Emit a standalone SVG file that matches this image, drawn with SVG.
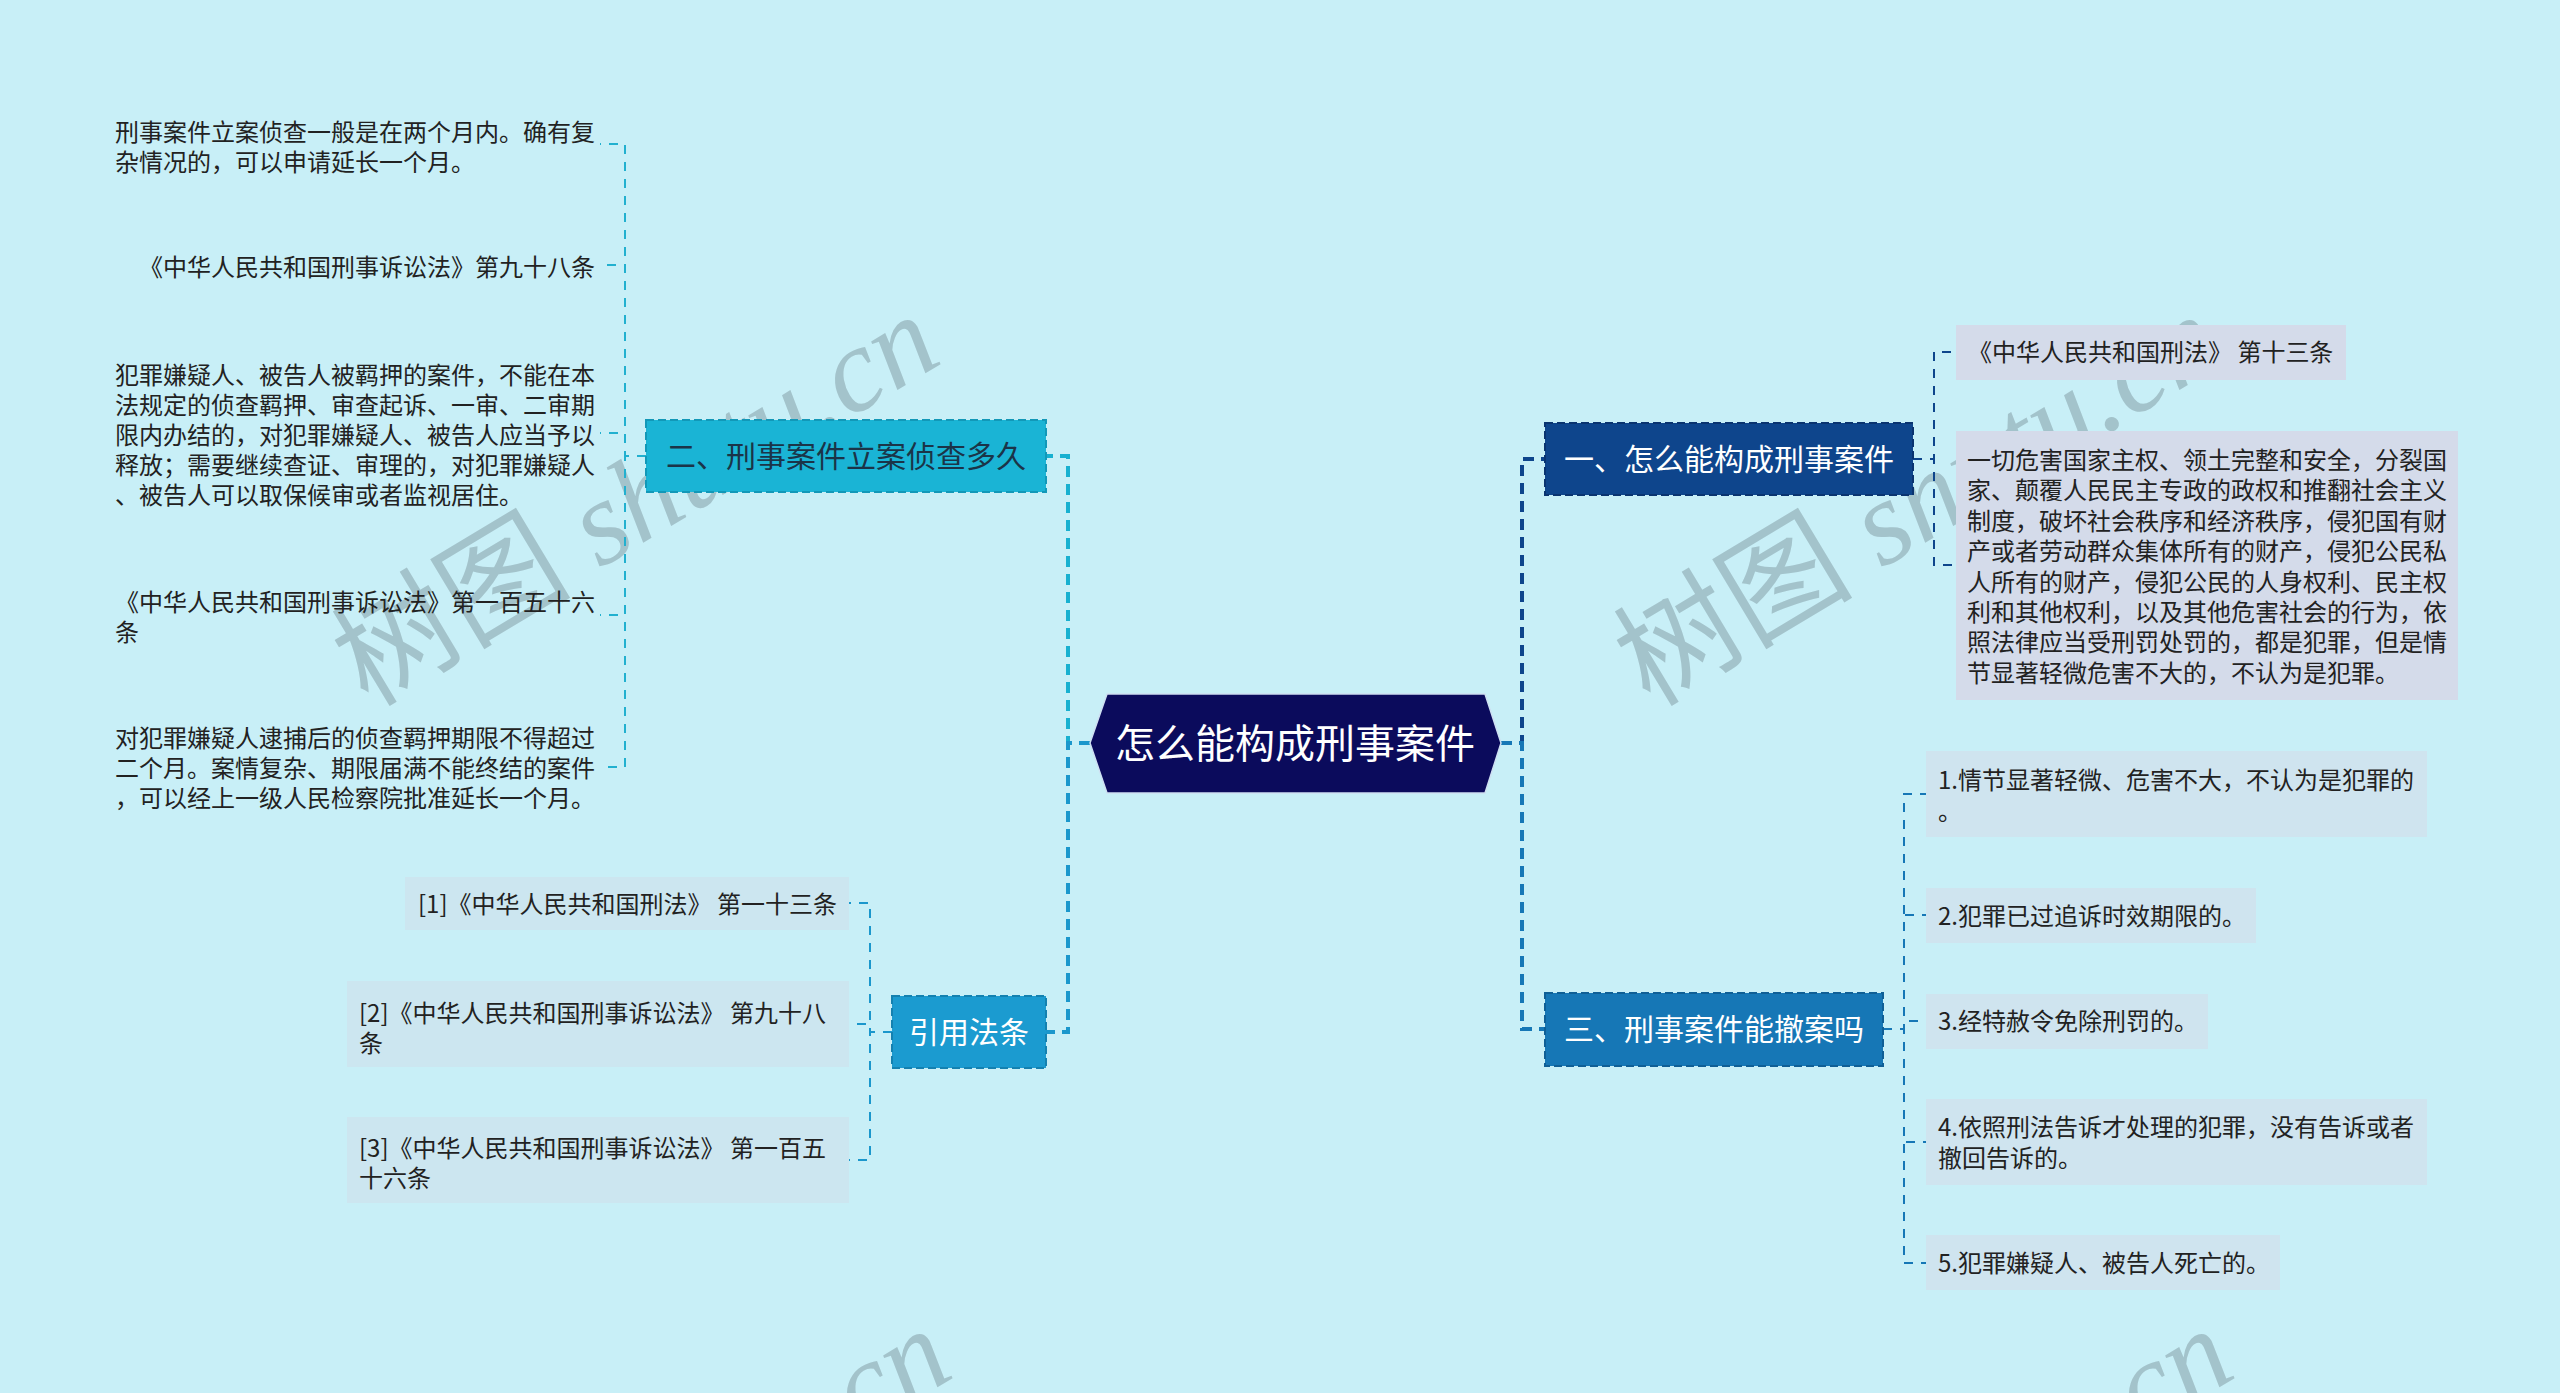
<svg xmlns="http://www.w3.org/2000/svg" width="2560" height="1393" viewBox="0 0 2560 1393">
<style>
.t{font-family:"Noto Sans CJK SC","Noto Sans",sans-serif;}
.leaf{font-size:24px;fill:#222;}
.l1{font-size:30px;text-anchor:middle;}
.wm{font-family:"Liberation Serif","Noto Sans CJK SC",serif;font-size:120px;fill:#a3c3cb;}
.edge{fill:none;stroke-dasharray:10 7;}
.thick{stroke-width:4;stroke-dasharray:11 7;}
.thin{stroke-width:2;stroke-dasharray:9 8;}
</style>
<rect width="2560" height="1393" fill="#c8eff7"/>
<g id="watermarks">
<g transform="translate(368,708) rotate(-31)"><text class="wm" x="0" y="0">树图 <tspan font-style="italic">shutu.cn</tspan></text></g>
<g transform="translate(1650,708) rotate(-31)"><text class="wm" x="0" y="0">树图 <tspan font-style="italic">shutu.cn</tspan></text></g>
<g transform="translate(380,1722) rotate(-31)"><text class="wm" x="0" y="0">树图 <tspan font-style="italic">shutu.cn</tspan></text></g>
<g transform="translate(1662,1722) rotate(-31)"><text class="wm" x="0" y="0">树图 <tspan font-style="italic">shutu.cn</tspan></text></g>
</g>
<g id="connectors">
<path class="edge thick" stroke="#18b0d0" d="M1090 743H1068V456H1046"/>
<path class="edge thick" stroke="#1b97cc" d="M1090 743H1068V1032H1046"/>
<path class="edge thick" stroke="#0e458c" d="M1501 743H1522V459H1545"/>
<path class="edge thick" stroke="#1677b6" d="M1501 743H1522V1029H1545"/>
<path class="edge thin" stroke="#22b0cf" d="M646 456H625V144H600"/>
<path class="edge thin" stroke="#22b0cf" d="M646 456H625V265H600"/>
<path class="edge thin" stroke="#22b0cf" d="M646 456H625V433H600"/>
<path class="edge thin" stroke="#22b0cf" d="M646 456H625V615H600"/>
<path class="edge thin" stroke="#22b0cf" d="M646 456H625V767H600"/>
<path class="edge thin" stroke="#1b97cc" d="M892 1032H870V903H849"/>
<path class="edge thin" stroke="#1b97cc" d="M892 1032H870V1024H849"/>
<path class="edge thin" stroke="#1b97cc" d="M892 1032H870V1160H849"/>
<path class="edge thin" stroke="#0e458c" d="M1913 459H1934V352H1956"/>
<path class="edge thin" stroke="#0e458c" d="M1913 459H1934V565H1956"/>
<path class="edge thin" stroke="#1677b6" d="M1883 1029H1904V794H1926"/>
<path class="edge thin" stroke="#1677b6" d="M1883 1029H1904V915H1926"/>
<path class="edge thin" stroke="#1677b6" d="M1883 1029H1904V1021H1926"/>
<path class="edge thin" stroke="#1677b6" d="M1883 1029H1904V1142H1926"/>
<path class="edge thin" stroke="#1677b6" d="M1883 1029H1904V1263H1926"/>
</g>
<g id="root">
<polygon points="1090,743 1107,694 1485,694 1501,743 1485,793 1107,793" fill="#0b0b5c" stroke="#cfe0f2" stroke-width="1.5"/>
<text class="t" x="1295" y="758" font-size="40" fill="#fff" text-anchor="middle">怎么能构成刑事案件</text>
</g>
<g id="n1">
<rect x="1545" y="423" width="368" height="72" fill="#0e458c" stroke="#0a3470" stroke-width="2" stroke-dasharray="8 4"/>
<text class="t l1" x="1729" y="470" fill="#fff">一、怎么能构成刑事案件</text>
</g>
<g id="n3">
<rect x="1545" y="993" width="338" height="73" fill="#1677b6" stroke="#0f5f96" stroke-width="2" stroke-dasharray="8 4"/>
<text class="t l1" x="1714" y="1040" fill="#fff">三、刑事案件能撤案吗</text>
</g>
<g id="n2">
<rect x="646" y="420" width="400" height="72" fill="#1ab4d5" stroke="#1298b8" stroke-width="2" stroke-dasharray="8 4"/>
<text class="t l1" x="846" y="467" fill="#1b3448">二、刑事案件立案侦查多久</text>
</g>
<g id="n4">
<rect x="892" y="996" width="154" height="72" fill="#1b9bd0" stroke="#1481b0" stroke-width="2" stroke-dasharray="8 4"/>
<text class="t l1" x="969" y="1043" fill="#fff">引用法条</text>
</g>
<g id="n2a"><text class="t leaf" x="115"><tspan x="115" y="141">刑事案件立案侦查一般是在两个月内。确有复</tspan><tspan x="115" y="171">杂情况的，可以申请延长一个月。</tspan></text></g>
<g id="n2b"><text class="t leaf" x="595" y="276" text-anchor="end">《中华人民共和国刑事诉讼法》第九十八条</text></g>
<g id="n2c"><text class="t leaf"><tspan x="115" y="384">犯罪嫌疑人、被告人被羁押的案件，不能在本</tspan><tspan x="115" y="414">法规定的侦查羁押、审查起诉、一审、二审期</tspan><tspan x="115" y="444">限内办结的，对犯罪嫌疑人、被告人应当予以</tspan><tspan x="115" y="474">释放；需要继续查证、审理的，对犯罪嫌疑人</tspan><tspan x="115" y="504">、被告人可以取保候审或者监视居住。</tspan></text></g>
<g id="n2d"><text class="t leaf"><tspan x="115" y="611">《中华人民共和国刑事诉讼法》第一百五十六</tspan><tspan x="115" y="641">条</tspan></text></g>
<g id="n2e"><text class="t leaf"><tspan x="115" y="747">对犯罪嫌疑人逮捕后的侦查羁押期限不得超过</tspan><tspan x="115" y="777">二个月。案情复杂、期限届满不能终结的案件</tspan><tspan x="115" y="807">，可以经上一级人民检察院批准延长一个月。</tspan></text></g>
<g id="n4a">
<rect x="405" y="877" width="444" height="53" fill="#cce6f0"/>
<text class="t leaf" x="418" y="913">[1]《中华人民共和国刑法》 第一十三条</text>
</g>
<g id="n4b">
<rect x="347" y="981" width="502" height="86" fill="#cce6f0"/>
<text class="t leaf"><tspan x="359" y="1022">[2]《中华人民共和国刑事诉讼法》 第九十八</tspan><tspan x="359" y="1052">条</tspan></text>
</g>
<g id="n4c">
<rect x="347" y="1117" width="502" height="86" fill="#cce6f0"/>
<text class="t leaf"><tspan x="359" y="1157">[3]《中华人民共和国刑事诉讼法》 第一百五</tspan><tspan x="359" y="1187">十六条</tspan></text>
</g>
<g id="n1a">
<rect x="1956" y="325" width="390" height="55" fill="#d4dbea"/>
<text class="t leaf" x="1968" y="361">《中华人民共和国刑法》 第十三条</text>
</g>
<g id="n1b">
<rect x="1956" y="431" width="502" height="269" fill="#d4dbea"/>
<text class="t leaf"><tspan x="1967" y="469">一切危害国家主权、领土完整和安全，分裂国</tspan><tspan x="1967" y="499.4">家、颠覆人民民主专政的政权和推翻社会主义</tspan><tspan x="1967" y="529.8">制度，破坏社会秩序和经济秩序，侵犯国有财</tspan><tspan x="1967" y="560.2">产或者劳动群众集体所有的财产，侵犯公民私</tspan><tspan x="1967" y="590.6">人所有的财产，侵犯公民的人身权利、民主权</tspan><tspan x="1967" y="621">利和其他权利，以及其他危害社会的行为，依</tspan><tspan x="1967" y="651.4">照法律应当受刑罚处罚的，都是犯罪，但是情</tspan><tspan x="1967" y="681.8">节显著轻微危害不大的，不认为是犯罪。</tspan></text>
</g>
<g id="n3a">
<rect x="1926" y="751" width="501" height="86" fill="#cfe4ef"/>
<text class="t leaf"><tspan x="1938" y="789">1.情节显著轻微、危害不大，不认为是犯罪的</tspan><tspan x="1938" y="820">。</tspan></text>
</g>
<g id="n3b">
<rect x="1926" y="888" width="330" height="55" fill="#cfe4ef"/>
<text class="t leaf" x="1938" y="925">2.犯罪已过追诉时效期限的。</text>
</g>
<g id="n3c">
<rect x="1926" y="994" width="282" height="55" fill="#cfe4ef"/>
<text class="t leaf" x="1938" y="1030">3.经特赦令免除刑罚的。</text>
</g>
<g id="n3d">
<rect x="1926" y="1099" width="501" height="86" fill="#cfe4ef"/>
<text class="t leaf"><tspan x="1938" y="1136">4.依照刑法告诉才处理的犯罪，没有告诉或者</tspan><tspan x="1938" y="1167">撤回告诉的。</tspan></text>
</g>
<g id="n3e">
<rect x="1926" y="1235" width="354" height="55" fill="#cfe4ef"/>
<text class="t leaf" x="1938" y="1272">5.犯罪嫌疑人、被告人死亡的。</text>
</g>
</svg>
